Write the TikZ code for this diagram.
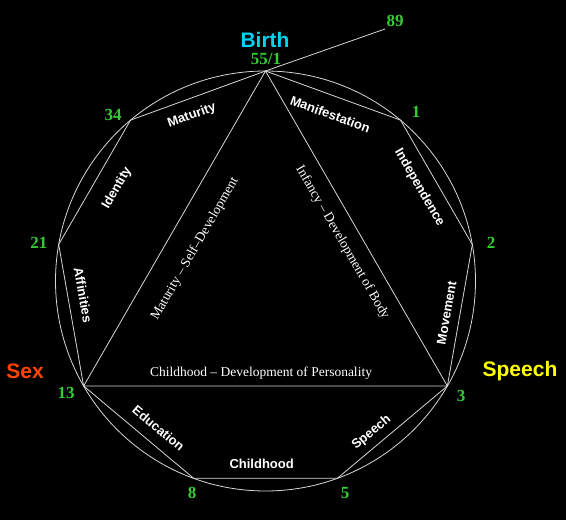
\documentclass[tikz,border=0pt]{standalone}
\usepackage{fontspec}
\setmainfont{Liberation Serif}
\newfontfamily\arialb{Liberation Sans}
\definecolor{numgreen}{RGB}{51,204,51}
\definecolor{birthcyan}{RGB}{0,210,240}
\definecolor{sexorange}{RGB}{255,69,0}
\definecolor{speechyellow}{RGB}{255,255,0}
\definecolor{linegray}{RGB}{215,215,215}
\begin{document}
\begin{tikzpicture}[x=1pt,y=1pt,
  edge/.style={draw=linegray,line width=0.8pt},
  edgelabel/.style={text=white,font=\arialb\bfseries\fontsize{13}{13}\selectfont,inner sep=0pt},
  innerlabel/.style={text=white,font=\fontsize{13.5}{13.5}\selectfont,inner sep=0pt},
  numlabel/.style={text=numgreen,font=\bfseries\fontsize{17}{17}\selectfont,inner sep=0pt},
  biglabel/.style={font=\arialb\bfseries\fontsize{21}{21}\selectfont,inner sep=0pt}]
\fill[black] (0,0) rectangle (566,520);
\useasboundingbox (0,0) rectangle (566,520);
\coordinate (c) at (265.5,239);
\path (c) ++(90:210) coordinate (v0);
\path (c) ++(50:210) coordinate (v1);
\path (c) ++(10:210) coordinate (v2);
\path (c) ++(-30:210) coordinate (v3);
\path (c) ++(-70:210) coordinate (v4);
\path (c) ++(-110:210) coordinate (v5);
\path (c) ++(-150:210) coordinate (v6);
\path (c) ++(170:210) coordinate (v7);
\path (c) ++(130:210) coordinate (v8);
\coordinate (e89) at (385,491);
% circle
\draw[edge] (c) circle[radius=210];
% polygon
\draw[edge] (v0) -- (v1) -- (v2) -- (v3) -- (v4) -- (v5) -- (v6) -- (v7) -- (v8) -- cycle;
% triangle
\draw[edge] (v0) -- (v6) -- (v3) -- cycle;
% line to 89
\draw[edge] (v0) -- (e89);
% edge labels
\path (c) ++(114:181) node[edgelabel,rotate=20] (lmat) {Maturity};
\path (c) ++(68.8:179) node[edgelabel,rotate=-20] (lman) {Manifestation};
\path (c) ++(31.3:180) node[edgelabel,rotate=-60] (lind) {Independence};
\path (c) ++(-10:184) node[edgelabel,rotate=80] (lmov) {Movement};
\path (c) ++(-55:185) node[edgelabel,rotate=40] (lspe) {Speech};
\path (c) ++(-91.2:183) node[edgelabel] (lchi) {Childhood};
\path (c) ++(-126:182) node[edgelabel,rotate=-40] (ledu) {Education};
\path (c) ++(184.4:183) node[edgelabel,rotate=-80] (laff) {Affinities};
\path (c) ++(148:175) node[edgelabel,rotate=60] (lide) {Identity};
% inner labels
\node[innerlabel,rotate=60] (imat) at (195,271) {Maturity -- Self--Development};
\node[innerlabel,rotate=-60] (iinf) at (342.5,277.5) {Infancy -- Development of Body};
\node[innerlabel] (ichi) at (261,147) {Childhood -- Development of Personality};
% numbers
\node[numlabel] (n89) at (395,499) {89};
\node[numlabel] (n55) at (266,461) {55/1};
\node[numlabel] (n1) at (416,408) {1};
\node[numlabel] (n34) at (113,405) {34};
\node[numlabel] (n2) at (491,277) {2};
\node[numlabel] (n21) at (39,277) {21};
\node[numlabel] (n13) at (66,127) {13};
\node[numlabel] (n3) at (461,124) {3};
\node[numlabel] (n8) at (192,27) {8};
\node[numlabel] (n5) at (345,27) {5};
% big labels
\node[biglabel,text=birthcyan] (birth) at (265,480) {Birth};
\node[biglabel,text=sexorange] (sex) at (25,149) {Sex};
\node[biglabel,text=speechyellow] (speech) at (520,149) {Speech};
\end{tikzpicture}
\end{document}
